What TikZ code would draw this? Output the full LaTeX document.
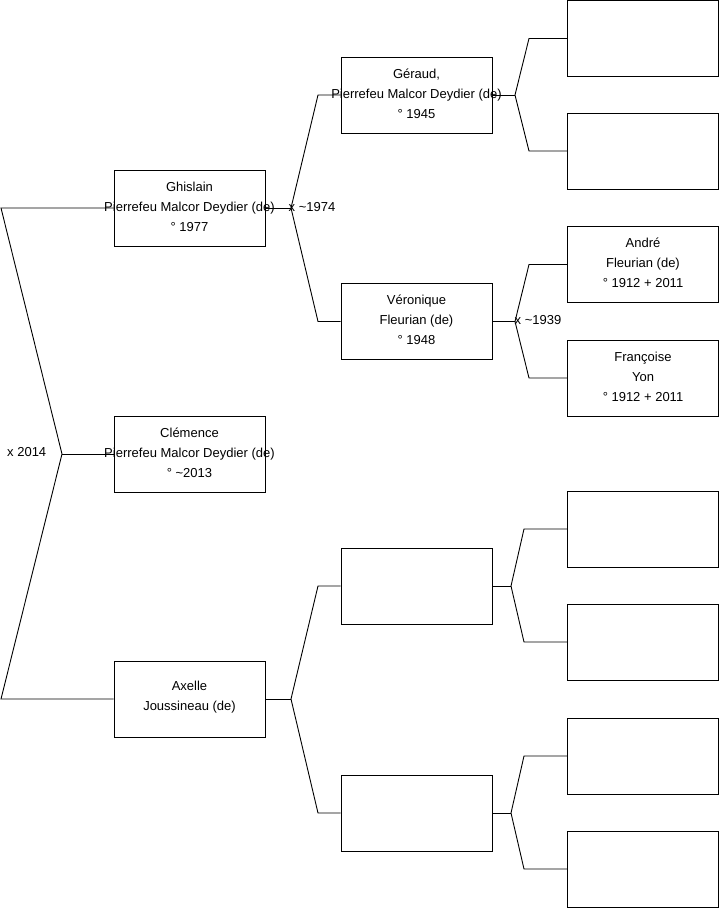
\documentclass[tikz,border=0pt]{standalone}
\usepackage{fontspec}
\setmainfont{Liberation Sans}
\begin{document}
\begin{tikzpicture}[x=1pt,y=-1pt,
  pbox/.style={draw=black,line width=0.9pt,minimum width=151pt,minimum height=76pt,inner sep=0pt},
  lbl/.style={align=center,font=\fontsize{13}{20}\selectfont,inner sep=0pt,yshift=1.5pt},
  conn/.style={draw=black,line width=0.9pt},
  mlbl/.style={anchor=west,font=\fontsize{13}{14}\selectfont,inner sep=0pt}]
\useasboundingbox (0,0) rectangle (719,908);
% column 1
\node[pbox,label={[lbl]center:{Ghislain\\Pierrefeu Malcor Deydier (de)\\° 1977}}] (g) at (189.5,208) {};
\node[pbox,label={[lbl]center:{Clémence\\Pierrefeu Malcor Deydier (de)\\° \textasciitilde 2013}}] (c) at (189.5,454) {};
\node[pbox,label={[lbl]center:{Axelle\\Joussineau (de)}}] (a) at (189.5,699) {};
% column 2
\node[pbox,label={[lbl]center:{Géraud,\\Pierrefeu Malcor Deydier (de)\\° 1945}}] (ge) at (416.5,95) {};
\node[pbox,label={[lbl]center:{Véronique\\Fleurian (de)\\° 1948}}] (v) at (416.5,321.5) {};
\node[pbox] (m3) at (416.5,586) {};
\node[pbox] (m4) at (416.5,813) {};
% column 3
\node[pbox] (r1) at (643,38.5) {};
\node[pbox] (r2) at (643,151) {};
\node[pbox,label={[lbl]center:{André\\Fleurian (de)\\° 1912 + 2011}}] (r3) at (643,264.5) {};
\node[pbox,label={[lbl]center:{Françoise\\Yon\\° 1912 + 2011}}] (r4) at (643,378) {};
\node[pbox] (r5) at (643,529) {};
\node[pbox] (r6) at (643,642) {};
\node[pbox] (r7) at (643,756) {};
\node[pbox] (r8) at (643,869) {};
% junctions
\coordinate (j1) at (1,208);
\coordinate (j2) at (62,454);
\coordinate (j3) at (1,699);
\coordinate (jg) at (291,208);
\coordinate (jg1) at (318,95);
\coordinate (jg2) at (318,321.5);
\coordinate (ja) at (291,699);
\coordinate (ja1) at (318,586);
\coordinate (ja2) at (318,813);
\coordinate (jge) at (515,95);
\coordinate (jge1) at (529,38.5);
\coordinate (jge2) at (529,151);
\coordinate (jv) at (515,321.5);
\coordinate (jv1) at (529,264.5);
\coordinate (jv2) at (529,378);
\coordinate (jm3) at (511,586);
\coordinate (jm31) at (524,529);
\coordinate (jm32) at (524,642);
\coordinate (jm4) at (511,813);
\coordinate (jm41) at (524,756);
\coordinate (jm42) at (524,869);
% connectors
\draw[conn] (g.west) -- (j1) -- (j2) -- (j3) -- (a.west);
\draw[conn] (j2) -- (c.west);
\draw[conn] (g.east) -- (jg);
\draw[conn] (ge.west) -- (jg1) -- (jg) -- (jg2) -- (v.west);
\draw[conn] (a.east) -- (ja);
\draw[conn] (m3.west) -- (ja1) -- (ja) -- (ja2) -- (m4.west);
\draw[conn] (ge.east) -- (jge);
\draw[conn] (r1.west) -- (jge1) -- (jge) -- (jge2) -- (r2.west);
\draw[conn] (v.east) -- (jv);
\draw[conn] (r3.west) -- (jv1) -- (jv) -- (jv2) -- (r4.west);
\draw[conn] (m3.east) -- (jm3);
\draw[conn] (r5.west) -- (jm31) -- (jm3) -- (jm32) -- (r6.west);
\draw[conn] (m4.east) -- (jm4);
\draw[conn] (r7.west) -- (jm41) -- (jm4) -- (jm42) -- (r8.west);
% marriage labels
\node[mlbl] (l1) at (7,452) {x 2014};
\node[mlbl] (l2) at (288.5,207) {x \textasciitilde 1974};
\node[mlbl] (l3) at (514.5,320) {x \textasciitilde 1939};
\end{tikzpicture}
\end{document}
